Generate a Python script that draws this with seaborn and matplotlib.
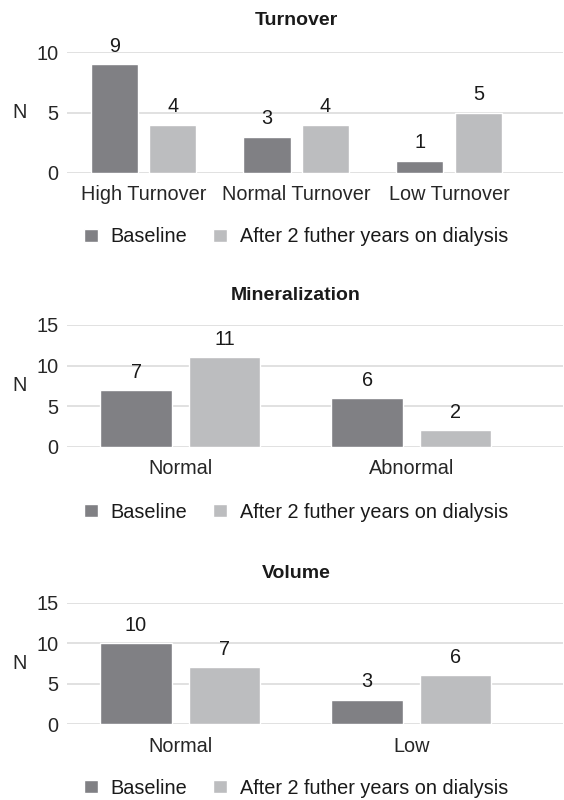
import pandas as pd
import matplotlib
matplotlib.use("Agg")
import matplotlib.pyplot as plt
import seaborn as sns

# data
series = ["Baseline", "After 2 futher years on dialysis"]

turnover_cats = ["High Turnover", "Normal Turnover", "Low Turnover"]
turnover_baseline = [9, 3, 1]
turnover_after = [4, 4, 5]

mineral_cats = ["Normal", "Abnormal"]
mineral_baseline = [7, 6]
mineral_after = [11, 2]

volume_cats = ["Normal", "Low"]
volume_baseline = [10, 3]
volume_after = [7, 6]

colors = ["#808084", "#bcbdbf"]

sns.set_theme(style="white")
plt.rcParams["font.family"] = ["Liberation Sans", "DejaVu Sans"]
plt.rcParams["text.color"] = "#1a1a1a"


def make_df(cats, base, after):
    return pd.DataFrame({
        "Category": cats * 2,
        "Series": [series[0]] * len(cats) + [series[1]] * len(cats),
        "N": base + after,
    })


fig = plt.figure(figsize=(5.64, 8), dpi=100)

fs = 14.3

panels = [
    ("Turnover", make_df(turnover_cats, turnover_baseline, turnover_after),
     [0.1188, 0.7841, 0.8792, 0.1505], 10, [0, 5, 10], (-0.5, 2.745), 0.974, 0.704),
    ("Mineralization", make_df(mineral_cats, mineral_baseline, mineral_after),
     [0.1188, 0.4416, 0.8792, 0.1522], 15, [0, 5, 10, 15], (-0.49, 1.656), 0.630, 0.360),
    ("Volume", make_df(volume_cats, volume_baseline, volume_after),
     [0.1188, 0.0950, 0.8792, 0.1516], 15, [0, 5, 10, 15], (-0.49, 1.656), 0.283, 0.015),
]

for title, df, rect, ymax, yticks, xlim, title_y, legend_y in panels:
    ax = fig.add_axes(rect)
    sns.barplot(data=df, x="Category", y="N", hue="Series", palette=colors,
                width=0.765, gap=0.19, ax=ax, saturation=1)
    for c in ax.containers:
        ax.bar_label(c, padding=6, fontsize=fs)
    ax.set_ylim(0, ymax)
    ax.set_yticks(yticks)
    ax.set_xlim(*xlim)
    ax.yaxis.grid(True, color="#dcdcdc", linewidth=1.2)
    ax.set_axisbelow(True)
    for s in ax.spines.values():
        s.set_visible(False)
    ax.tick_params(axis="both", length=0, labelsize=fs)
    ax.tick_params(axis="x", pad=9)
    ax.tick_params(axis="y", pad=6)
    ax.set_xlabel("")
    ax.set_ylabel("N", fontsize=fs, rotation=0, labelpad=12, va="center")
    handles, labels = ax.get_legend_handles_labels()
    ax.get_legend().remove()
    fig.text(0.525, title_y, title, ha="center", va="center",
             fontsize=14, fontweight="bold")
    fig.legend(handles, labels, loc="center", bbox_to_anchor=(0.525, legend_y),
               ncol=2, frameon=False, fontsize=fs, handlelength=0.68,
               handleheight=0.68, handletextpad=0.65, columnspacing=1.3)

fig.savefig("out.png", dpi=100)
